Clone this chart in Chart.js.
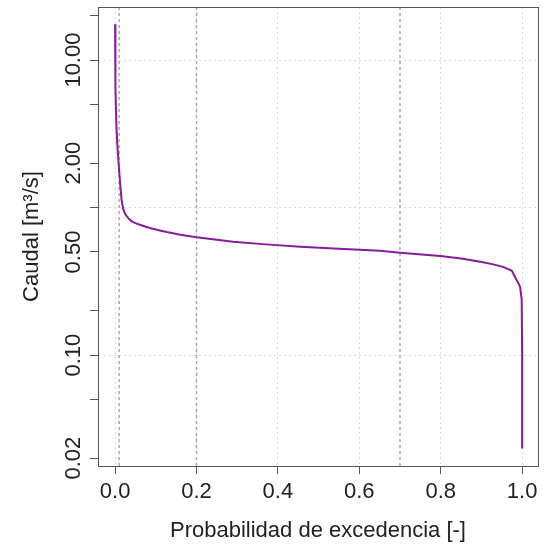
<!DOCTYPE html>
<html>
<head>
<meta charset="utf-8">
<script src="https://cdn.jsdelivr.net/npm/chart.js@4/dist/chart.umd.min.js"></script>
<style>
  html, body { margin: 0; padding: 0; background: #fff; }
  #wrap { width: 552px; height: 545px; }
</style>
</head>
<body>
<div id="wrap"><canvas id="chart" width="552" height="545"></canvas></div>
<script>
// curva de duracion de caudales
const probExc = [0.000, 0.0005, 0.001, 0.003, 0.005, 0.008, 0.012, 0.016, 0.020, 0.025,
  0.033, 0.040, 0.050, 0.061, 0.075, 0.090, 0.110, 0.127, 0.160, 0.200, 0.245, 0.290,
  0.370, 0.455, 0.550, 0.651, 0.700, 0.799, 0.850, 0.897, 0.929, 0.955, 0.975, 0.983,
  0.990, 0.995, 0.999, 1.000, 1.000];
const caudal = [17.5, 9.0, 6.5, 3.74, 2.8, 2.10, 1.5, 1.12, 0.98, 0.90,
  0.845, 0.81, 0.785, 0.765, 0.742, 0.722, 0.70, 0.683, 0.655, 0.630, 0.607, 0.586,
  0.563, 0.542, 0.525, 0.509, 0.494, 0.469, 0.452, 0.429, 0.412, 0.395, 0.373, 0.336,
  0.310, 0.290, 0.236, 0.10, 0.0233];

// lineas de referencia (probabilidades)
const refProbs = [0.01, 0.2, 0.7];

const yTicks = [20, 10, 5, 2, 1, 0.5, 0.2, 0.1, 0.05, 0.02];
const yLabeled = [10, 2, 0.5, 0.1, 0.02];
const yGrid = [10, 1, 0.1];
const xTicks = [0, 0.2, 0.4, 0.6, 0.8, 1.0];

const yMin = 0.0177, yMax = 22.9;
const xMin = -0.042, xMax = 1.039;

const font = { family: "'Liberation Sans', Arial, sans-serif", size: 22 };

let datasets = [{
  data: probExc.map((p, i) => ({ x: p, y: caudal[i] })),
  borderColor: "#881c9c",
  borderWidth: 2,
  pointRadius: 0,
  tension: 0,
}];
refProbs.forEach((p) => {
  datasets.push({
    data: [{ x: p, y: yMin }, { x: p, y: yMax }],
    borderColor: "#aaaaaa",
    borderWidth: 1.5,
    borderDash: [3, 3],
    pointRadius: 0,
  });
});

// caja alrededor del grafico (estilo R)
const boxPlugin = {
  id: "box",
  afterDraw(chart) {
    const a = chart.chartArea;
    const ctx = chart.ctx;
    ctx.save();
    ctx.strokeStyle = "#555";
    ctx.lineWidth = 1;
    ctx.strokeRect(Math.round(a.left) + 0.5, Math.round(a.top) + 0.5,
      Math.round(a.right - a.left), Math.round(a.bottom - a.top));
    ctx.restore();
  },
};

new Chart(document.getElementById("chart"), {
  type: "line",
  data: { datasets: datasets },
  plugins: [boxPlugin],
  options: {
    responsive: false,
    animation: false,
    layout: { padding: { top: 7, right: 14, left: 0, bottom: 0 } },
    plugins: { legend: { display: false }, tooltip: { enabled: false } },
    scales: {
      x: {
        type: "linear",
        min: xMin,
        max: xMax,
        afterBuildTicks: (s) => { s.ticks = xTicks.map((v) => ({ value: v })); },
        afterFit: (s) => { s.height = 79; },
        ticks: {
          font: font,
          color: "#222",
          padding: 5,
          maxRotation: 0,
          autoSkip: false,
          callback: (v) => Number(v).toFixed(1),
        },
        grid: {
          color: "#d8d8d8",
          lineWidth: 1,
          tickLength: 8,
          tickColor: "#555",
        },
        border: { display: true, color: "#555", dash: [2, 3] },
        title: {
          display: true,
          text: "Probabilidad de excedencia [-]",
          font: font,
          color: "#222",
          padding: { top: 0, bottom: 1 },
        },
      },
      y: {
        type: "logarithmic",
        min: yMin,
        max: yMax,
        afterBuildTicks: (s) => { s.ticks = yTicks.map((v) => ({ value: v })); },
        afterFit: (s) => { s.width = 98; },
        ticks: {
          font: font,
          color: "#222",
          minRotation: 90,
          maxRotation: 90,
          crossAlign: "center",
          padding: -11,
          autoSkip: false,
          callback: (v) => (yLabeled.includes(Number(v)) ? Number(v).toFixed(2) : ""),
        },
        grid: {
          color: (c) => (c.tick && yGrid.includes(c.tick.value) ? "#d8d8d8" : "rgba(0,0,0,0)"),
          lineWidth: 1,
          tickLength: 8,
          tickColor: "#555",
        },
        border: { display: true, color: "#555", dash: [2, 3] },
        title: {
          display: true,
          text: "Caudal [m³/s]",
          font: font,
          color: "#222",
          padding: { top: 19, bottom: 0 },
        },
      },
    },
  },
});
</script>
</body>
</html>
